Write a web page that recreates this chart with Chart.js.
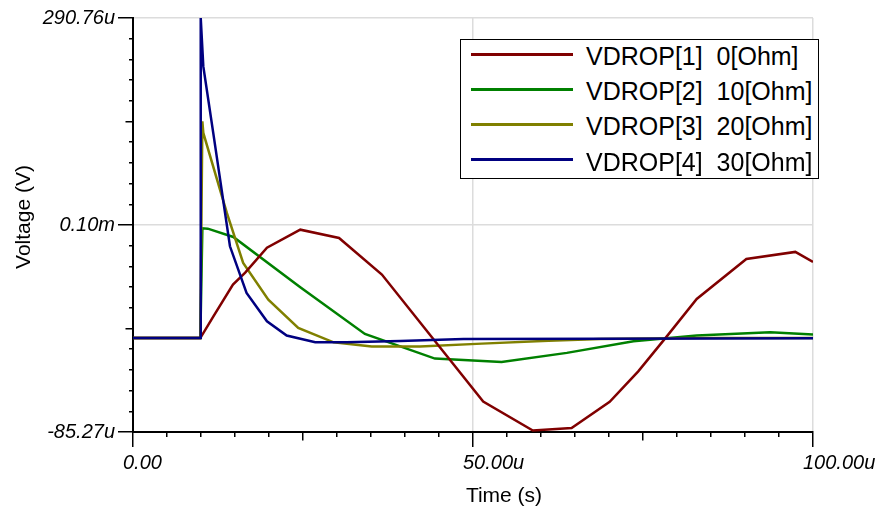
<!DOCTYPE html>
<html lang="en">

<head>
    <meta charset="UTF-8">
    <title>VDROP transient</title>
    <script src="https://cdn.jsdelivr.net/npm/chart.js"></script>
    <style>
        body { margin: 0; background: #fff; }
        .janela { position: relative; width: 878px; height: 508px; font-family: "Liberation Sans", Arial, sans-serif; }
        #grafico { position: absolute; left: 0; top: 0; }
        .titulo-x { position: absolute; left: 404px; top: 482px; width: 200px; text-align: center; font-size: 21px; line-height: 26px; color: #000; }
        .titulo-y { position: absolute; left: -77px; top: 204px; width: 200px; text-align: center; font-size: 21px; line-height: 26px; color: #000; transform: rotate(-90deg); }
        .legenda { position: absolute; left: 460px; top: 39px; width: 357px; height: 138px; border: 1px solid #000; background: #fff; }
        .item { position: absolute; left: 0; height: 35px; width: 357px; }
        .item .traco { position: absolute; left: 10px; top: 13.5px; width: 102px; height: 3px; }
        .item .texto { position: absolute; left: 125px; top: 0; font-size: 25px; line-height: 35px; white-space: pre; color: #000; }
    </style>
</head>

<body>

    <div class="janela">
        <canvas id="grafico" width="878" height="508"></canvas>
        <div class="titulo-y">Voltage (V)</div>
        <div class="titulo-x">Time (s)</div>
        <div class="legenda" id="legenda"></div>
    </div>

<script>

    // valores (tempo em us, tensao em uV)
    var nomes = ['VDROP[1]  0[Ohm]', 'VDROP[2]  10[Ohm]', 'VDROP[3]  20[Ohm]', 'VDROP[4]  30[Ohm]'];
    var cores = ['#800000', '#008000', '#808000', '#000080'];

    var tempo1 = [0, 9.9, 11.8, 14.7, 16.5, 19.7, 24.6, 30.3, 36.6, 51.5, 58.8, 64.5, 70.1, 74.3, 78.5, 82.9, 90.2, 97.4, 100];
    var vdrop1 = [0, 0, 19.5, 48.6, 59.5, 82.2, 98.5, 91.0, 57.7, -57.7, -84.0, -81.6, -57.9, -30.2, 1.6, 35.6, 71.9, 78.3, 69.2];

    var tempo2 = [0, 9.9, 10.2, 11.0, 14.75, 24.6, 34.1, 44.4, 54.2, 63.8, 73.6, 82.9, 93.7, 100];
    var vdrop2 = [0, 0, 99.7, 99.4, 91.9, 46.3, 3.8, -18.6, -21.6, -13.4, -2.9, 2.3, 5.3, 3.2];

    var tempo3 = [0, 9.9, 10.2, 10.34, 13.8, 16.2, 19.9, 24.3, 29.5, 35.1, 42.2, 51.3, 61.1, 68.7, 83.4, 100];
    var vdrop3 = [0, 0, 196.9, 186.4, 113.7, 68.3, 35.0, 9.3, -3.8, -7.5, -7.5, -5.0, -2.3, -0.7, 0, 0];

    var tempo4 = [0, 9.9, 9.96, 10.34, 11.8, 14.26, 16.7, 19.7, 22.6, 26.8, 31.4, 39.3, 48.6, 68.7, 100];
    var vdrop4 = [0, 0, 290.76, 246.8, 186.4, 83.4, 41.0, 15.3, 2.3, -3.8, -3.8, -2.7, -0.9, -0.5, -0.1];

    var xMin = 0;
    var xMax = 100;
    var yMin = -85.27;
    var yMax = 290.76;
    var xTickLabels = ['0.00', '50.00u', '100.00u'];
    var yTickLabels = ['-85.27u', '0.10m', '290.76u'];

    function pontos(tempos, valores) {
        var lista = [];
        for (var i = 0; i < tempos.length; i++) {
            lista.push({ x: tempos[i], y: valores[i] });
        }
        return lista;
    }

    var series = [
        pontos(tempo1, vdrop1),
        pontos(tempo2, vdrop2),
        pontos(tempo3, vdrop3),
        pontos(tempo4, vdrop4)
    ];

    // ordem de desenho: azul por cima
    var ordem = [1, 3, 2, 0];

    var datasets = [];
    for (var i = 0; i < series.length; i++) {
        datasets.push({
            label: nomes[i],
            data: series[i],
            borderColor: cores[i],
            backgroundColor: cores[i],
            borderWidth: 2.5,
            pointRadius: 0,
            tension: 0,
            order: ordem[i]
        });
    }

    // tracos: grande a cada 10, medio a cada 5, pequeno nos outros
    function tamanhoTraco(index) {
        if (index % 10 === 0) return 15;
        if (index % 5 === 0) return 7.5;
        return 4;
    }

    var ctx = document.getElementById('grafico').getContext('2d');
    var myChart = new Chart(ctx, {
        type: 'line',
        data: { datasets: datasets },
        options: {
            responsive: false,
            animation: false,
            layout: {
                padding: { left: 0, right: 65, top: 18, bottom: 0 }
            },
            plugins: {
                legend: { display: false },
                tooltip: { enabled: false }
            },
            scales: {
                x: {
                    type: 'linear',
                    min: xMin,
                    max: xMax,
                    afterFit: function (scale) {
                        scale.height = 76;
                        scale.paddingLeft = 0;
                        scale.paddingRight = 0;
                    },
                    afterBuildTicks: function (scale) {
                        var t = [];
                        for (var i = 0; i <= 20; i++) t.push({ value: xMin + i * (xMax - xMin) / 20 });
                        scale.ticks = t;
                    },
                    border: { display: true, color: '#000', width: 2 },
                    grid: {
                        color: function (c) {
                            return (c.index === 10 || c.index === 20) ? '#dcdcdc' : 'rgba(0,0,0,0)';
                        },
                        lineWidth: 1.5,
                        tickColor: '#000',
                        tickWidth: 1.5,
                        tickLength: 15,
                        tickBorderDash: function (c) {
                            return [tamanhoTraco(c.index), 100];
                        }
                    },
                    ticks: {
                        autoSkip: false,
                        maxRotation: 0,
                        align: 'start',
                        labelOffset: -10,
                        padding: 4,
                        color: '#000',
                        font: { family: '"Liberation Sans", Arial, sans-serif', size: 20, style: 'italic' },
                        callback: function (value, index) {
                            return index % 10 === 0 ? xTickLabels[index / 10] : '';
                        }
                    }
                },
                y: {
                    type: 'linear',
                    min: yMin,
                    max: yMax,
                    afterFit: function (scale) {
                        scale.width = 133;
                        scale.paddingTop = 0;
                        scale.paddingBottom = 0;
                    },
                    afterBuildTicks: function (scale) {
                        var t = [];
                        for (var i = 0; i <= 20; i++) t.push({ value: yMin + i * (yMax - yMin) / 20 });
                        scale.ticks = t;
                    },
                    border: { display: true, color: '#000', width: 2 },
                    grid: {
                        color: function (c) {
                            return (c.index === 10 || c.index === 20) ? '#dcdcdc' : 'rgba(0,0,0,0)';
                        },
                        lineWidth: 1.5,
                        tickColor: '#000',
                        tickWidth: 1.5,
                        tickLength: 15,
                        tickBorderDash: function (c) {
                            var d = tamanhoTraco(c.index);
                            return [0, 15 - d, d, 100];
                        }
                    },
                    ticks: {
                        autoSkip: false,
                        padding: 3,
                        color: '#000',
                        font: { family: '"Liberation Sans", Arial, sans-serif', size: 20, style: 'italic' },
                        callback: function (value, index) {
                            return index % 10 === 0 ? yTickLabels[index / 10] : '';
                        }
                    }
                }
            }
        }
    });

    // legenda com caixa, como no original
    var legenda = document.getElementById('legenda');
    for (var i = 0; i < nomes.length; i++) {
        var item = document.createElement('div');
        item.className = 'item';
        item.style.top = (-1 + i * 35.2) + 'px';
        item.innerHTML = '<span class="traco" style="background:' + cores[i] + '"></span><span class="texto">' + nomes[i] + '</span>';
        legenda.appendChild(item);
    }

</script>

</body>

</html>
